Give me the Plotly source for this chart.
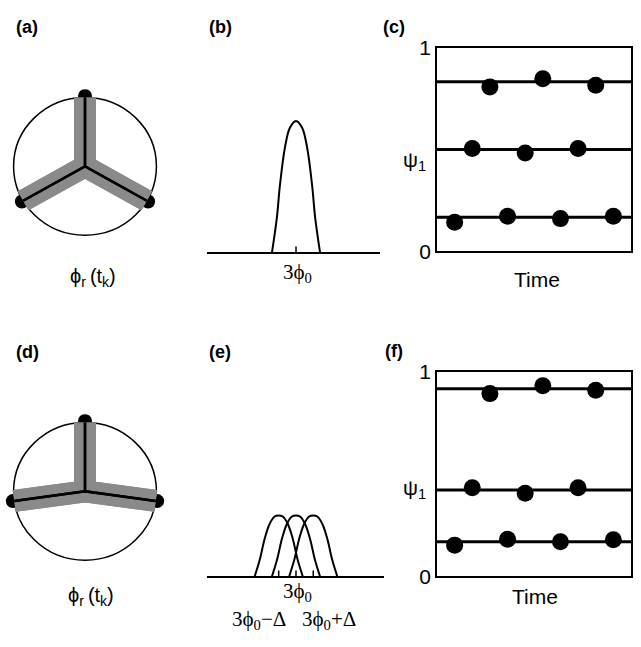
import numpy as np
import plotly.graph_objects as go

W, H = 641, 647

# ---------------- data ----------------
# (a)/(d): spoke angles (degrees) of the three phases on the unit circle
spokes_a = [90, 210, 330]
spokes_d = [90, 188, 352]

# (b): single bump, offsets (in half-widths) from 3*phi0 and heights
bump_u = [-1.0, -0.8, -0.67, -0.46, -0.25, 0.0, 0.25, 0.46, 0.67, 0.8, 1.0]
bump_b = [0.0, 0.26, 0.51, 0.80, 0.95, 1.0, 0.95, 0.80, 0.51, 0.26, 0.0]

# (e): three lower bumps at 3phi0-Delta, 3phi0, 3phi0+Delta
bump_e_u = [-1.0, -0.79, -0.58, -0.375, -0.17, 0.0, 0.17, 0.375, 0.58, 0.79, 1.0]
bump_e = [0.0, 0.125, 0.29, 0.40, 0.455, 0.463, 0.455, 0.40, 0.29, 0.125, 0.0]
delta = 0.72
centers_e = [-delta, 0.0, delta]

# (c)/(f): psi_1 levels and measured dots over time
time = list(range(1, 11))
levels_c = [0.833, 0.5, 0.167]
psi_c = [0.142, 0.505, 0.807, 0.172, 0.483, 0.847, 0.160, 0.505, 0.815, 0.172]
levels_f = [0.917, 0.421, 0.168]
psi_f = [0.152, 0.433, 0.893, 0.181, 0.406, 0.932, 0.168, 0.433, 0.909, 0.178]

# ---------------- helpers ----------------
def px_x(p):
    return p / W

def px_y(p):
    return 1 - p / H

fig = go.Figure()

GRAY = "#8a8a8a"
SANS = "Liberation Sans, Arial, sans-serif"
SERIF = "Liberation Serif, Times New Roman, serif"
PHI = "\u03d5"


def wheel(angles, xa, ya):
    ang = np.radians(angles)
    ex, ey = np.cos(ang), np.sin(ang)
    # black end dots
    fig.add_trace(go.Scatter(x=1.02 * ex, y=1.02 * ey, mode="markers",
                             marker=dict(color="black", size=14),
                             xaxis=xa, yaxis=ya, hoverinfo="skip"))
    px_, py_ = [], []
    for i, j in [(0, 1), (0, 2), (1, 2)]:
        px_ += [ex[i], 0, ex[j], None]
        py_ += [ey[i], 0, ey[j], None]
    fig.add_trace(go.Scatter(x=px_, y=py_, mode="lines",
                             line=dict(color=GRAY, width=22),
                             xaxis=xa, yaxis=ya, hoverinfo="skip"))
    fig.add_trace(go.Scatter(x=px_, y=py_, mode="lines",
                             line=dict(color="black", width=2.5),
                             xaxis=xa, yaxis=ya, hoverinfo="skip"))
    fig.add_shape(type="circle", x0=-1, y0=-1, x1=1, y1=1,
                  xref=xa, yref=ya, line=dict(color="black", width=1.5),
                  layer="below")


wheel(spokes_a, "x", "y")
wheel(spokes_d, "x4", "y4")

# (b)
fig.add_trace(go.Scatter(x=bump_u, y=bump_b, mode="lines", line_shape="spline",
                         line=dict(color="black", width=2), xaxis="x2", yaxis="y2",
                         hoverinfo="skip"))
fig.add_trace(go.Scatter(x=[0], y=[0], mode="markers",
                         marker=dict(symbol="line-ns", size=8,
                                     line=dict(color="black", width=1.5)),
                         xaxis="x2", yaxis="y2", hoverinfo="skip"))

# (e)
for c in centers_e:
    fig.add_trace(go.Scatter(x=[c + u for u in bump_e_u], y=bump_e, mode="lines",
                             line_shape="spline", line=dict(color="black", width=2),
                             xaxis="x5", yaxis="y5", hoverinfo="skip"))
fig.add_trace(go.Scatter(x=centers_e, y=[0, 0, 0], mode="markers",
                         marker=dict(symbol="line-ns", size=8,
                                     line=dict(color="black", width=1.5)),
                         xaxis="x5", yaxis="y5", hoverinfo="skip"))

# (c) and (f)
for levels, psi, xa, ya in [(levels_c, psi_c, "x3", "y3"), (levels_f, psi_f, "x6", "y6")]:
    for lv in levels:
        fig.add_trace(go.Scatter(x=[0, 11], y=[lv, lv], mode="lines",
                                 line=dict(color="black", width=3),
                                 xaxis=xa, yaxis=ya, hoverinfo="skip"))
    fig.add_trace(go.Scatter(x=time, y=psi, mode="markers",
                             marker=dict(color="black", size=17),
                             xaxis=xa, yaxis=ya, hoverinfo="skip"))

# ---------------- axes ----------------
hidden = dict(visible=False, showgrid=False, zeroline=False, fixedrange=True)

def dom_x(a, b):
    return [px_x(a), px_x(b)]

def dom_y(top, bottom):
    return [px_y(bottom), px_y(top)]

R = 1.12
layout_axes = dict(
    xaxis=dict(hidden, domain=dom_x(5, 165), range=[-R, R]),
    yaxis=dict(hidden, domain=dom_y(80, 240), range=[-R, R]),
    xaxis4=dict(hidden, domain=dom_x(5, 165), range=[-R, R]),
    yaxis4=dict(hidden, domain=dom_y(417, 577), range=[-R, R]),
    xaxis2=dict(domain=dom_x(207, 380), range=[-3.71, 3.5], showgrid=False,
                zeroline=False, showline=True, linecolor="black", linewidth=2,
                showticklabels=False, ticks="", fixedrange=True),
    yaxis2=dict(hidden, domain=dom_y(100, 249), range=[0, 1.0956]),
    xaxis5=dict(domain=dom_x(207, 384), range=[-3.71, 3.67], showgrid=False,
                zeroline=False, showline=True, linecolor="black", linewidth=2,
                showticklabels=False, ticks="", fixedrange=True),
    yaxis5=dict(hidden, domain=dom_y(436, 585), range=[0, 1.0956]),
)

box_x = dict(range=[0, 11], showgrid=False, zeroline=False, showline=True, mirror=True,
             linecolor="black", linewidth=1.5, showticklabels=False, ticks="",
             fixedrange=True)
box_y = dict(range=[0, 1], showgrid=False, zeroline=False, showline=True, mirror=True,
             linecolor="black", linewidth=1.5, tickvals=[0, 1], ticktext=["0", "1"],
             ticks="", tickfont=dict(family=SANS, size=21, color="black"),
             fixedrange=True)
layout_axes["xaxis3"] = dict(box_x, domain=dom_x(437, 631), anchor="y3")
layout_axes["yaxis3"] = dict(box_y, domain=dom_y(37, 248), anchor="x3")
layout_axes["xaxis6"] = dict(box_x, domain=dom_x(437, 631), anchor="y6")
layout_axes["yaxis6"] = dict(box_y, domain=dom_y(373, 585), anchor="x6")
layout_axes["xaxis2"]["anchor"] = "y2"
layout_axes["xaxis5"]["anchor"] = "y5"

# ---------------- text ----------------
annots = []

def txt(text, x, y, size, family=SANS, bold=False):
    if bold:
        text = "<b>" + text + "</b>"
    annots.append(dict(text=text, x=px_x(x), y=px_y(y), xref="paper", yref="paper",
                       xanchor="center", yanchor="middle", showarrow=False,
                       font=dict(family=family, size=size, color="black")))

for lab, x, y in [("(a)", 27, 16), ("(b)", 220, 16), ("(c)", 394, 16),
                  ("(d)", 27, 353), ("(e)", 220, 353), ("(f)", 394, 352)]:
    txt(lab, x, y, 18, bold=True)

txt(PHI + "<sub>r</sub>\u2009(t<sub>k</sub>)", 93, 275, 20)
txt(PHI + "<sub>r</sub>\u2009(t<sub>k</sub>)", 91, 606, 20)
txt("3" + PHI + "<sub>0</sub>", 297, 271, 21, SERIF)
txt("3" + PHI + "<sub>0</sub>", 297, 601, 21, SERIF)
txt("3" + PHI + "<sub>0</sub>−Δ", 259, 630, 21, SERIF)
txt("3" + PHI + "<sub>0</sub>+Δ", 329, 630, 21, SERIF)
txt("ψ<sub>1</sub>", 414, 155, 21)
txt("ψ<sub>1</sub>", 414, 495, 21)
txt("Time", 537, 277, 21)
txt("Time", 535, 606, 21)

fig.update_layout(
    width=W, height=H, margin=dict(l=0, r=0, t=0, b=0),
    paper_bgcolor="white", plot_bgcolor="white", showlegend=False,
    annotations=annots, **layout_axes,
)

fig.write_html("out.html")
